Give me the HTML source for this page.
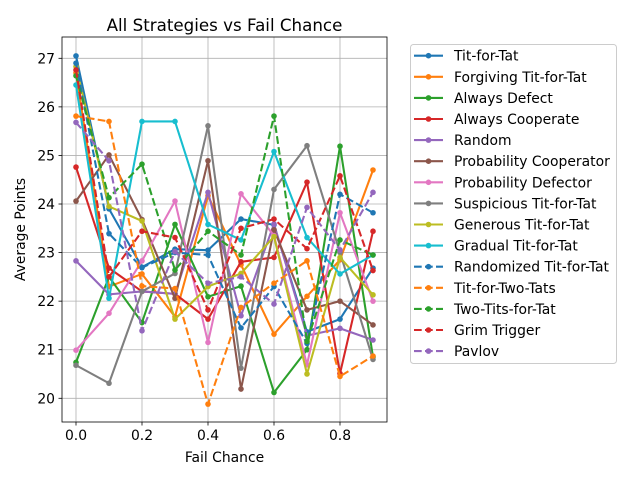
<!DOCTYPE html>
<html><head><meta charset="utf-8"><style>
body{margin:0;background:#fff;}
svg{display:block;font-family:"DejaVu Sans","Liberation Sans",sans-serif;}
</style></head><body>
<svg id="chart" width="640" height="480" viewBox="0 0 640 480">
<rect x="0" y="0" width="640" height="480" fill="#fff"/>
<g id="grid"></g>
<g id="series"></g>
<rect x="62" y="37" width="325" height="385" fill="none" stroke="#000" stroke-width="0.8"/>
<g id="ticks"></g>
<text x="224.5" y="31" text-anchor="middle" font-size="16.7">All Strategies vs Fail Chance</text>
<text x="224.5" y="462" text-anchor="middle" font-size="13.9">Fail Chance</text>
<text x="25" y="229.5" text-anchor="middle" font-size="13.9" transform="rotate(-90 25 229.5)">Average Points</text>
<rect x="410.5" y="44.5" width="206" height="319" rx="3" fill="#fff" stroke="#ccc" stroke-width="1"/>
<g id="legend"></g>
</svg>
<script>
const xValues=[0,0.1,0.2,0.3,0.4,0.5,0.6,0.7,0.8,0.9];
const xTicks=[0,0.2,0.4,0.6,0.8];
const xTickLabels=["0.0","0.2","0.4","0.6","0.8"];
const yTicks=[20,21,22,23,24,25,26,27];
const names=["Tit-for-Tat","Forgiving Tit-for-Tat","Always Defect","Always Cooperate","Random","Probability Cooperator","Probability Defector","Suspicious Tit-for-Tat","Generous Tit-for-Tat","Gradual Tit-for-Tat","Randomized Tit-for-Tat","Tit-for-Two-Tats","Two-Tits-for-Tat","Grim Trigger","Pavlov"];
const titForTat=[27.05,23.9,22.7,23.07,23.05,23.69,23.57,21.37,21.63,22.68];
const forgivingTitForTat=[26.7,22.3,22.56,21.68,24.17,22.75,21.32,22.1,22.85,24.70];
const alwaysDefect=[20.74,22.5,21.56,23.58,22.09,22.31,20.12,21.0,25.19,20.85];
const alwaysCooperate=[24.76,22.68,22.2,22.15,21.63,22.81,22.90,24.45,20.51,23.44];
const randomS=[22.83,22.14,22.2,22.15,24.24,21.70,23.59,21.29,21.44,21.20];
const probCooperator=[24.06,25.01,23.68,22.06,24.89,20.19,23.47,21.82,22.0,21.51];
const probDefector=[20.99,21.75,22.83,24.06,21.15,24.21,23.35,20.69,23.82,22.0];
const suspicious=[20.68,20.31,22.2,22.57,25.61,20.62,24.30,25.20,23.0,20.80];
const generous=[26.83,23.95,23.65,21.63,22.3,22.57,23.33,20.50,22.90,22.13];
const gradual=[26.45,22.06,25.70,25.70,23.58,23.26,25.08,23.31,22.56,22.95];
const randomizedTft=[26.9,23.39,22.69,23.0,22.95,21.45,22.30,21.13,24.20,23.82];
const titForTwoTats=[25.81,25.70,22.31,22.26,19.88,21.87,22.37,22.83,20.45,20.87];
const twoTitsForTat=[26.64,24.13,24.82,22.64,23.44,22.95,25.81,21.17,23.26,22.95];
const grimTrigger=[26.76,22.5,23.44,23.31,21.82,23.50,23.69,23.08,24.58,22.63];
const pavlov=[25.68,24.89,21.39,23.02,22.37,22.5,21.94,23.93,23.05,24.24];
const seriesData=[titForTat,forgivingTitForTat,alwaysDefect,alwaysCooperate,randomS,probCooperator,probDefector,suspicious,generous,gradual,randomizedTft,titForTwoTats,twoTitsForTat,grimTrigger,pavlov];
const colors=["#1f77b4","#ff7f0e","#2ca02c","#d62728","#9467bd","#8c564b","#e377c2","#7f7f7f","#bcbd22","#17becf","#1f77b4","#ff7f0e","#2ca02c","#d62728","#9467bd"];
const NS="http://www.w3.org/2000/svg";
function xs(v){return 76+v*330;}
function ys(v){return 58.3+(27-v)*48.57;}
function mk(tag,attrs,parent){const e=document.createElementNS(NS,tag);for(const k in attrs)e.setAttribute(k,attrs[k]);parent.appendChild(e);return e;}
const grid=document.getElementById('grid'),ticks=document.getElementById('ticks'),ser=document.getElementById('series'),leg=document.getElementById('legend');
xTicks.forEach((t,i)=>{const x=xs(t);
 const g=mk('line',{x1:x,x2:x,y1:37,y2:422,stroke:'#b0b0b0','stroke-width':0.8},grid);
 
 const tk=mk('line',{x1:x,x2:x,y1:422,y2:425.5,stroke:'#000','stroke-width':0.8},ticks);
 
 const tl=mk('text',{x:x,y:440,'text-anchor':'middle','font-size':13.9},ticks);tl.textContent=xTickLabels[i];
 });
yTicks.forEach(t=>{const y=ys(t);
 const g=mk('line',{x1:62,x2:387,y1:y,y2:y,stroke:'#b0b0b0','stroke-width':0.8},grid);
 
 const tk=mk('line',{x1:58.5,x2:62,y1:y,y2:y,stroke:'#000','stroke-width':0.8},ticks);
 
 const tl=mk('text',{x:55,y:y+5,'text-anchor':'end','font-size':13.9},ticks);tl.textContent=String(t);
 });
seriesData.forEach((d,i)=>{const dash=i>=10?'7.7,3.3':'none';
 const g=mk('g',{},ser);
 
 
 const pts=d.map((v,j)=>xs(xValues[j])+','+ys(v)).join(' ');
 const pl=mk('polyline',{points:pts,fill:'none',stroke:colors[i],'stroke-width':2.08,'stroke-dasharray':dash,'stroke-linejoin':'round'},g);
 
 d.forEach((v,j)=>{const c=mk('circle',{cx:xs(xValues[j]),cy:ys(v),r:2.8,fill:colors[i]},g);
  });
 const ly=55.7+i*21.1;
 const le=mk('g',{},leg);
 
 mk('line',{x1:414,x2:443,y1:ly,y2:ly,stroke:colors[i],'stroke-width':2.08,'stroke-dasharray':dash},le);
 mk('circle',{cx:428.5,cy:ly,r:2.8,fill:colors[i]},le);
 const t=mk('text',{x:454,y:ly+5,'font-size':13.9},le);t.textContent=names[i];});
</script>
</body></html>
